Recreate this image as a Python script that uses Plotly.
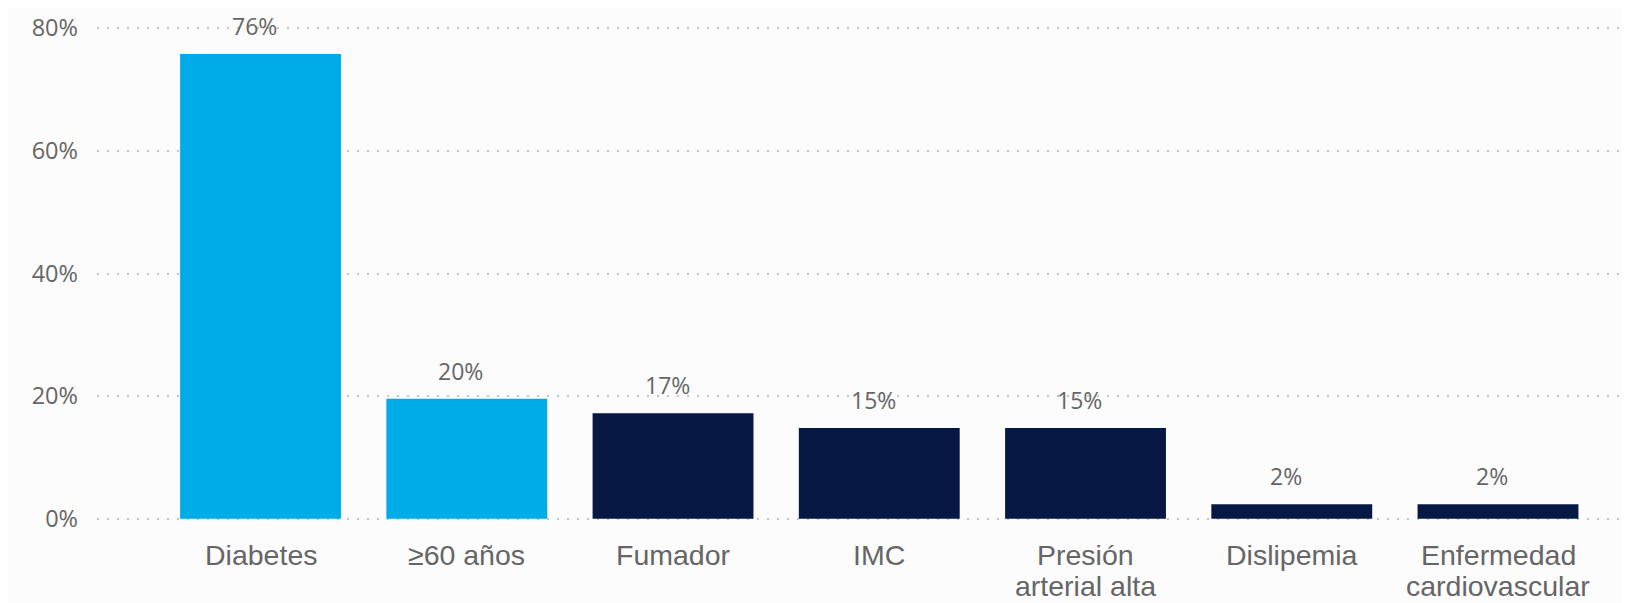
import plotly.graph_objects as go

categories = ["Diabetes", "≥60 años", "Fumador", "IMC", "Presión<br>arterial alta", "Dislipemia", "Enfermedad<br>cardiovascular"]
values = [75.8, 19.6, 17.2, 14.8, 14.8, 2.4, 2.4]
colors = ["#00ACE8", "#00ACE8", "#071845", "#071845", "#071845", "#071845", "#071845"]
y_ticks = [0, 20, 40, 60, 80]
y_ticklabels = ["0%", "20%", "40%", "60%", "80%"]

x_idx = list(range(len(categories)))

fig = go.Figure()
fig.add_trace(go.Bar(
    x=x_idx, y=values, marker=dict(color=colors, line=dict(width=0)),
    hoverinfo="skip", showlegend=False,
))

annotations = []
# value labels
for i, v in zip(x_idx, values):
    annotations.append(dict(
        x=i, y=v, xref="x", yref="y", text=f"{v:.0f}%", showarrow=False,
        yanchor="bottom", yshift=10, xshift=-6,
        font=dict(family="Open Sans", size=23, color="#666666"),
    ))
# category labels (tight line spacing)
for i, c in zip(x_idx, categories):
    for j, line in enumerate(c.split("<br>")):
        annotations.append(dict(
            x=i, y=0, xref="x", yref="y", text=line, showarrow=False,
            yanchor="top", yshift=-18 - 31 * j,
            font=dict(family="Liberation Sans, Arial", size=28.5, color="#666666"),
        ))

fig.update_layout(
    width=1622, height=595,
    margin=dict(l=89, r=0, t=14, b=78),
    paper_bgcolor="#FCFCFC", plot_bgcolor="#FCFCFC",
    bargap=0.22,
    annotations=annotations,
    xaxis=dict(
        range=[-0.793, 6.64], showticklabels=False, showgrid=False,
        zeroline=False, showline=False, ticks="",
    ),
    yaxis=dict(
        range=[-1, 81], tickvals=y_ticks, ticktext=y_ticklabels,
        showgrid=True, gridcolor="#C4C4C4", gridwidth=2, griddash="2px,8px",
        zeroline=False, showline=False, ticks="",
        ticklabelstandoff=18,
        tickfont=dict(family="Open Sans", size=23.5, color="#666666"),
    ),
)

fig.write_html("out.html")
